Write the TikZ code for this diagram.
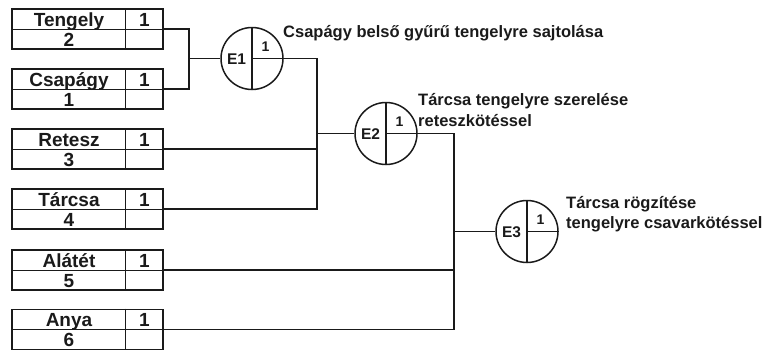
\documentclass[tikz,border=0pt]{standalone}
\usepackage{fontspec}
\setmainfont{Liberation Sans}
\usetikzlibrary{calc}
\definecolor{ink}{HTML}{1A1A1A}
\newcommand\partbox[5]{%
  \node[box] (#1) at (87.5,#2) {};
  \draw[innerline] (#1.west) -- (#1.east);
  \draw[innerline] ($(#1.north west)+(114,0)$) -- ($(#1.south west)+(114,0)$);
  \node[boxtxt] (#1-n) at ($(#1.center)+(-18.5,-3)$) {#3};
  \node[boxtxt] (#1-q) at ($(#1.center)+(57,-3)$) {#5};
  \node[boxtxt] (#1-i) at ($(#1.center)+(-18.5,17)$) {#4};
}
\newcommand\opcircle[4]{%
  \node[ring] (#1) at (#2,#3) {};
  \draw[ringline] (#1.north) -- (#1.south);
  \draw[ringline] (#1.center) -- (#1.east);
  \node[ringtxt] (#1-t) at ($(#1.center)+(-15.5,1)$) {#4};
  \node[smalltxt] (#1-c) at ($(#1.center)+(13.5,-12)$) {1};
}
\begin{document}
\begin{tikzpicture}[x=1pt,y=-1pt,
  box/.style={draw=ink, line width=1.7pt, rectangle, minimum width=151pt, minimum height=40pt, inner sep=0pt},
  innerline/.style={draw=ink, line width=1pt},
  wire/.style={draw=ink, line width=1.1pt},
  ring/.style={draw=ink, line width=1.5pt, circle, minimum size=62pt, inner sep=0pt},
  ringline/.style={draw=ink, line width=1.5pt},
  boxtxt/.style={font=\fontsize{19}{19}\selectfont\bfseries, text=ink, inner sep=0pt, anchor=base},
  ringtxt/.style={font=\fontsize{15.5}{15.5}\selectfont\bfseries, text=ink, inner sep=0pt},
  smalltxt/.style={font=\fontsize{14}{14}\selectfont\bfseries, text=ink, inner sep=0pt},
  lbl/.style={font=\fontsize{16.5}{16.5}\selectfont\bfseries, text=ink, inner sep=0pt, anchor=base west}]
\useasboundingbox (0,0) rectangle (770,351);

\partbox{b1}{29}{Tengely}{2}{1}
\partbox{b2}{89}{Csapágy}{1}{1}
\partbox{b3}{149}{Retesz}{3}{1}
\partbox{b4}{209}{Tárcsa}{4}{1}
\partbox{b5}{270}{Alátét}{5}{1}
\partbox{b6}{329.5}{Anya}{6}{1}

\opcircle{e1}{252}{58.5}{E1}
\opcircle{e2}{386}{133.5}{E2}
\opcircle{e3}{527}{231.5}{E3}

\coordinate (j1) at (189,58.5);
\coordinate (j2) at (317,133.5);
\coordinate (j3) at (454,231.5);

\draw[wire] (b1.east) -| (b2.east -| j1) -- (b2.east);
\draw[wire] (j1) -- (e1.west);

\draw[wire] (e1.east) -| (b4.east -| j2) -- (b4.east);
\draw[wire] (b3.east) -- (b3.east -| j2);
\draw[wire] (j2) -- (e2.west);

\draw[wire] (e2.east) -| (b6.east -| j3) -- (b6.east);
\draw[wire] (b5.east) -- (b5.east -| j3);
\draw[wire] (j3) -- (e3.west);

\node[lbl] (l1) at (283,37) {Csapágy belső gyűrű tengelyre sajtolása};
\node[lbl] (l2a) at (418,105) {Tárcsa tengelyre szerelése};
\node[lbl] (l2b) at (418,126) {reteszkötéssel};
\node[lbl] (l3a) at (566,208) {Tárcsa rögzítése};
\node[lbl] (l3b) at (566,228) {tengelyre csavarkötéssel};
\end{tikzpicture}
\end{document}
